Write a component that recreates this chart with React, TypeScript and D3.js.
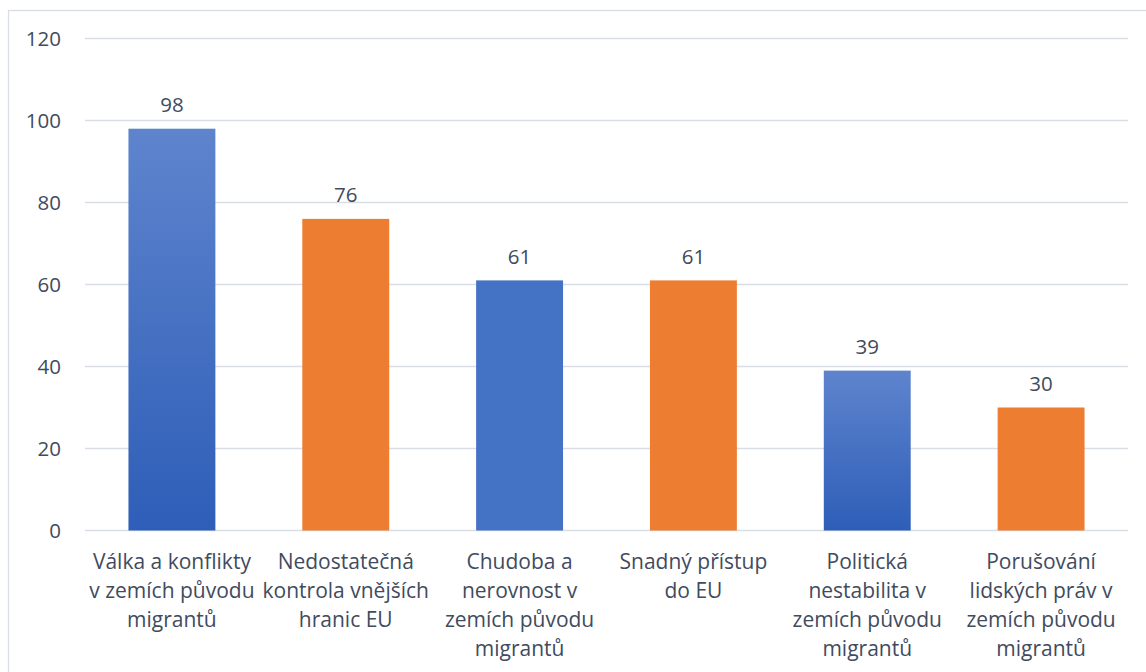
import React from "react";
import * as d3 from "d3";

const categories: string[][] = [
  ["Válka a konflikty", "v zemích původu", "migrantů"],
  ["Nedostatečná", "kontrola vnějších", "hranic EU"],
  ["Chudoba a", "nerovnost v", "zemích původu", "migrantů"],
  ["Snadný přístup", "do EU"],
  ["Politická", "nestabilita v", "zemích původu", "migrantů"],
  ["Porušování", "lidských práv v", "zemích původu", "migrantů"],
];
const values: number[] = [98, 76, 61, 61, 39, 30];
const fills: string[] = ["url(#gradBlue)", "#ED7D31", "#4472C4", "#ED7D31", "url(#gradBlue)", "#ED7D31"];
const yTicks: number[] = [0, 20, 40, 60, 80, 100, 120];

const W = 1146;
const H = 672;
const FONT = "'Open Sans', 'Noto Sans', sans-serif";
const TEXT = "#414B5E";
const GRID = "#D9DDE5";

export default function App() {
  const x = d3
    .scaleBand<number>()
    .domain(d3.range(values.length))
    .range([85, 1128])
    .paddingInner(0.5)
    .paddingOuter(0.25);
  const y = d3.scaleLinear().domain([0, 120]).range([530.5, 38.5]);

  return (
    <svg
      width={W}
      height={H}
      style={{ position: "absolute", left: 0, top: 0, background: "#fff" }}
      fontFamily={FONT}
    >
      <defs>
        <linearGradient id="gradBlue" x1="0" y1="0" x2="0" y2="1">
          <stop offset="0%" stopColor="#5E84CD" />
          <stop offset="100%" stopColor="#2E5EB8" />
        </linearGradient>
      </defs>
      <rect x={8.5} y={10.5} width={W} height={H} fill="#fff" stroke="#D9DDE4" strokeWidth={1.3} />
      {yTicks.map((t) => (
        <g key={t}>
          <line x1={85} x2={1128} y1={y(t)} y2={y(t)} stroke={GRID} strokeWidth={1.6} />
          <text x={61} y={y(t)} dy="0.36em" textAnchor="end" fontSize={20.5} fill={TEXT}>
            {t}
          </text>
        </g>
      ))}
      {values.map((v, i) => (
        <g key={i}>
          <rect
            x={x(i)!}
            y={y(v)}
            width={x.bandwidth()}
            height={y(0) - y(v)}
            fill={fills[i]}
          />
          <text
            x={x(i)! + x.bandwidth() / 2}
            y={y(v) - 16.5}
            textAnchor="middle"
            fontSize={20.5}
            fill={TEXT}
          >
            {v}
          </text>
          <text textAnchor="middle" fontSize={21} fill={TEXT}>
            {categories[i].map((line, j) => (
              <tspan key={j} x={x(i)! + x.bandwidth() / 2} y={569 + j * 29}>
                {line}
              </tspan>
            ))}
          </text>
        </g>
      ))}
    </svg>
  );
}
